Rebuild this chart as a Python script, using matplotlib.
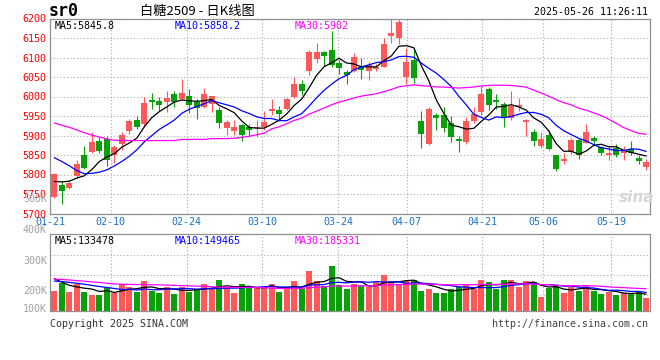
#!/usr/bin/env python3
"""
sr0 (白糖2509) daily K-line chart, Sina finance style
price candles + MA5/10/30 on top, volume + MA on the bottom
"""

import numpy as np
import pandas as pd
import matplotlib
matplotlib.use("Agg")
import matplotlib.pyplot as plt

# ------------------------------------------------------------
# 1.  Data
# ------------------------------------------------------------
dates = ["01-21", "01-22", "01-23", "01-24", "01-27",
         "02-05", "02-06", "02-07", "02-10", "02-11", "02-12", "02-13", "02-14",
         "02-17", "02-18", "02-19", "02-20", "02-21", "02-24", "02-25", "02-26",
         "02-27", "02-28", "03-03", "03-04", "03-05", "03-06", "03-07", "03-10",
         "03-11", "03-12", "03-13", "03-14", "03-17", "03-18", "03-19", "03-20",
         "03-21", "03-24", "03-25", "03-26", "03-27", "03-28", "03-31", "04-01",
         "04-02", "04-03", "04-07", "04-08", "04-09", "04-10", "04-11", "04-14",
         "04-15", "04-16", "04-17", "04-18", "04-21", "04-22", "04-23", "04-24",
         "04-25", "04-28", "04-29", "04-30", "05-06", "05-07", "05-08", "05-09",
         "05-12", "05-13", "05-14", "05-15", "05-16", "05-19", "05-20", "05-21",
         "05-22", "05-23", "05-26"]

opens = [5742, 5772, 5765, 5795, 5851, 5858, 5885, 5892, 5849, 5877,
         5911, 5941, 5930, 5992, 5989, 5987, 6006, 5994, 6000, 5987,
         5972, 5981, 5966, 5918, 5912, 5926, 5921, 5918, 5923, 5963,
         5966, 5969, 6000, 6032, 6066, 6096, 6115, 6119, 6087, 6064,
         6066, 6076, 6066, 6070, 6076, 6156, 6149, 6051, 6094, 5936,
         5879, 5953, 5953, 5932, 5892, 5884, 5936, 5960, 6020, 5990,
         5981, 5946, 5972, 5935, 5909, 5872, 5900, 5851, 5834, 5858,
         5888, 5881, 5894, 5870, 5851, 5868, 5856, 5866, 5843, 5819]
highs = [5803, 5781, 5783, 5838, 5874, 5909, 5896, 5898, 5875, 5908,
         5942, 5951, 6000, 6009, 6000, 6015, 6013, 6045, 6019, 5993,
         6023, 6001, 5974, 5941, 5941, 5929, 5929, 5941, 5964, 5994,
         5976, 5997, 6051, 6043, 6119, 6138, 6117, 6168, 6094, 6068,
         6111, 6100, 6089, 6084, 6150, 6200, 6198, 6125, 6123, 5962,
         5972, 5958, 5973, 5949, 5898, 5947, 5974, 6027, 6024, 6006,
         5986, 6013, 5996, 5943, 5917, 5909, 5913, 5851, 5854, 5894,
         5894, 5930, 5898, 5872, 5872, 5879, 5872, 5885, 5851, 5840]
lows = [5741, 5725, 5762, 5790, 5813, 5856, 5856, 5821, 5830, 5864,
        5905, 5917, 5923, 5969, 5964, 5960, 5974, 5992, 5958, 5942,
        5970, 5959, 5918, 5902, 5902, 5885, 5900, 5895, 5915, 5953,
        5936, 5966, 5997, 6004, 6054, 6085, 6078, 6075, 6058, 6032,
        6064, 6044, 6043, 6066, 6075, 6136, 6134, 6031, 6034, 5868,
        5875, 5915, 5909, 5884, 5857, 5879, 5933, 5953, 5966, 5969,
        5922, 5939, 5962, 5898, 5872, 5868, 5864, 5809, 5828, 5853,
        5840, 5880, 5872, 5851, 5837, 5845, 5837, 5851, 5828, 5811]
closes = [5802, 5758, 5779, 5828, 5817, 5883, 5860, 5837, 5871, 5900,
          5936, 5923, 5983, 5987, 5977, 5997, 5985, 6009, 5977, 5970,
          6006, 6000, 5932, 5934, 5921, 5901, 5915, 5923, 5934, 5969,
          5955, 5994, 6032, 6015, 6115, 6115, 6105, 6081, 6074, 6055,
          6102, 6068, 6081, 6075, 6134, 6163, 6191, 6089, 6047, 5904,
          5969, 5945, 5918, 5896, 5885, 5938, 5955, 6006, 5979, 5987,
          5947, 5976, 5977, 5939, 5887, 5891, 5866, 5813, 5841, 5888,
          5851, 5908, 5885, 5856, 5856, 5851, 5864, 5856, 5834, 5832]

# volume in thousands of lots
volumes = [162, 226, 154, 216, 154, 128, 128, 186, 146, 214,
           194, 154, 240, 160, 146, 194, 136, 194, 154, 176,
           216, 174, 248, 194, 142, 216, 186, 194, 194, 216,
           154, 174, 240, 176, 322, 240, 200, 362, 208, 176,
           216, 200, 194, 230, 288, 240, 216, 240, 248, 160,
           176, 142, 142, 176, 194, 216, 176, 248, 230, 176,
           248, 248, 194, 240, 230, 114, 182, 208, 146, 190,
           160, 208, 160, 136, 150, 128, 142, 142, 154, 106]

# moving-average values before the window is full (come from older days)
ma5_head = [5782, 5781, 5783, 5791]
ma10_head = [5843, 5833, 5822, 5810, 5802, 5803, 5806, 5812, 5822]
ma30_head = [5932, 5926, 5921, 5914, 5907, 5901, 5896, 5891, 5888, 5887,
             5887, 5887, 5887, 5887, 5887, 5887, 5887, 5890, 5890, 5890,
             5890, 5892, 5892, 5892, 5893, 5895, 5898, 5902, 5906]
vma5_head = [258, 230, 205, 193]
vma10_head = [240, 235, 229, 222, 214, 205, 196, 188, 180]
vma30_head = [255, 252, 248, 243, 238, 233, 228, 222, 217, 214,
              213, 212, 211, 210, 209, 207, 205, 203, 201, 199,
              197, 194, 191, 190, 189, 189, 188, 188, 187]

tick_dates = ["01-21", "02-10", "02-24", "03-10", "03-24",
              "04-07", "04-21", "05-06", "05-19"]
price_ticks = list(range(5700, 6201, 50))
vol_labels = ["500K", "400K", "300K", "200K", "100K"]

last_ma = {"MA5": 5845.8, "MA10": 5858.2, "MA30": 5902}
last_vma = {"MA5": 133478, "MA10": 149465, "MA30": 185331}

# ------------------------------------------------------------
# 2.  Style
# ------------------------------------------------------------
W, H = 660, 360
RED, GREEN = "#ff5858", "#0aa00a"
MA_COLORS = ["#000000", "#0000ff", "#ff00ff"]
MONO = "DejaVu Sans Mono"
CJK = ["Noto Sans CJK SC", "DejaVu Sans"]
GRID = dict(color="#a8a8a8", lw=0.8, ls=(0, (1, 2)))
FS = 7.2


def fx(px):
    return px / W


def fy(py):
    return 1 - py / H


def moving(values, win, head):
    s = pd.Series(values, dtype=float).rolling(win).mean()
    s.iloc[:len(head)] = head
    return s.values


n = len(dates)
x = np.arange(n)
o, h, l, c = map(np.array, (opens, highs, lows, closes))
vol = np.array(volumes) * 1000
col = np.where(c >= o, RED, GREEN)

ma_lines = [moving(closes, 5, ma5_head), moving(closes, 10, ma10_head),
            moving(closes, 30, ma30_head)]
vma_lines = [moving(volumes, 5, vma5_head), moving(volumes, 10, vma10_head),
             moving(volumes, 30, vma30_head)]
vma_lines = [v * 1000 for v in vma_lines]

# grid lines sit at the start of each labelled day, stepping a bit wider
tick_pos = [1.0133 * dates.index(d) - 0.6 for d in tick_dates]
XLIM = (-0.467, 79.533)

fig = plt.figure(figsize=(W / 100, H / 100), dpi=100)
ax = fig.add_axes([fx(50), fy(213.5), 600 / W, 195 / H])
axv = fig.add_axes([fx(50), fy(311), 600 / W, 77 / H])

# ------------------------------------------------------------
# 3.  Price panel
# ------------------------------------------------------------
ax.vlines(x, l, h, colors=col, lw=0.8, zorder=3)
ax.bar(x, np.maximum(np.abs(c - o), 1.5), bottom=np.minimum(o, c),
       width=0.8, color=col, lw=0, zorder=3)
for line, cl in zip(ma_lines, MA_COLORS):
    ax.plot(x, line, color=cl, lw=0.9, zorder=4)

ax.set_xlim(*XLIM)
ax.set_ylim(5700, 6200)
ax.set_yticks(price_ticks)
ax.set_yticklabels([str(p) for p in price_ticks], family=MONO,
                   fontsize=FS, color="#ff0000")
ax.set_xticks(tick_pos)
ax.set_xticklabels(tick_dates, family=MONO, fontsize=FS, color="#1a72c8")
ax.tick_params(length=0, pad=2.5)
ax.grid(True, **GRID)
ax.set_axisbelow(True)

for i, (k, v) in enumerate(last_ma.items()):
    ax.text((5 + 120 * i) / 600, 0.985, f"{k}:{v}",
            transform=ax.transAxes, family=MONO, fontsize=FS,
            color=MA_COLORS[i], va="top", ha="left")

ax.text(0.977, 0.06, "sina", transform=ax.transAxes, fontsize=11,
        fontweight="bold", style="italic", color="#d6d6d6", ha="center")

# ------------------------------------------------------------
# 4.  Volume panel
# ------------------------------------------------------------
axv.bar(x, vol, width=0.8, color=col, lw=0, zorder=3)
for line, cl in zip(vma_lines, MA_COLORS):
    axv.plot(x, line, color=cl, lw=0.9, zorder=4)

axv.set_xlim(*XLIM)
axv.set_ylim(0, 616000)
axv.set_xticks(tick_pos)
axv.set_yticks([125000, 285000, 445000])
axv.tick_params(length=0, labelbottom=False, labelleft=False)
axv.grid(True, **GRID)
axv.set_axisbelow(True)

for lab, py in zip(vol_labels, [199.5, 230.5, 261, 291, 309]):
    fig.text(fx(47), fy(py), lab, family=MONO, fontsize=FS,
             color="#a0a0a0", ha="right", va="center")

for i, (k, v) in enumerate(last_vma.items()):
    axv.text((5 + 120 * i) / 600, 0.97, f"{k}:{v}",
             transform=axv.transAxes, family=MONO, fontsize=FS,
             color=MA_COLORS[i], va="top", ha="left")

for a in (ax, axv):
    for s in a.spines.values():
        s.set_color("#909090")
        s.set_linewidth(0.9)

# ------------------------------------------------------------
# 5.  Header / footer
# ------------------------------------------------------------
fig.text(fx(49), fy(11), "sr0", family=MONO, fontsize=12,
         fontweight="bold", va="center", ha="left")
fig.text(fx(140), fy(11), "白糖2509 - 日K线图", family=CJK, fontsize=9.5,
         va="center", ha="left")
fig.text(fx(648), fy(12), "2025-05-26 11:26:11", family=MONO, fontsize=FS,
         va="center", ha="right")
fig.text(fx(50), fy(324), "Copyright 2025 SINA.COM", family=MONO,
         fontsize=FS, color="#333333", va="center", ha="left")
fig.text(fx(648), fy(324), "http://finance.sina.com.cn", family=MONO,
         fontsize=FS, color="#444444", va="center", ha="right")

fig.savefig("out.png", dpi=100, facecolor="white")
